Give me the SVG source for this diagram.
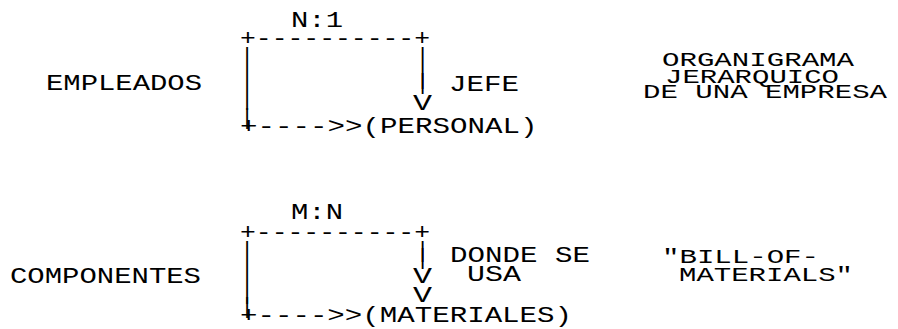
<svg xmlns="http://www.w3.org/2000/svg" width="898" height="329" viewBox="0 0 898 329">
<style>
text{font-family:"Liberation Mono","DejaVu Sans Mono",monospace;font-size:22px;fill:#000;}
.c{text-anchor:middle}
.cap{font-size:21px}
</style>
<rect width="898" height="329" fill="#fff"/>
<g id="connectors">
  <text x="240" y="45" textLength="190" lengthAdjust="spacingAndGlyphs">+----------+</text>
  <text x="247" y="63" class="c">|</text>
  <text x="247" y="84" class="c">|</text>
  <text x="247" y="105" class="c">|</text>
  <text x="247" y="124" class="c">|</text>
  <text x="422.5" y="63" class="c">|</text>
  <text x="422.5" y="84" class="c">|</text>
  <text x="422.5" y="89" class="c">|</text>
  <text x="422.5" y="110" class="c" textLength="19" lengthAdjust="spacingAndGlyphs">V</text>
  <text x="240" y="133" textLength="297.5" lengthAdjust="spacingAndGlyphs">+----&gt;&gt;(PERSONAL)</text>

  <text x="240" y="239" textLength="190" lengthAdjust="spacingAndGlyphs">+----------+</text>
  <text x="247" y="257" class="c">|</text>
  <text x="247" y="278" class="c">|</text>
  <text x="247" y="299" class="c">|</text>
  <text x="247" y="313" class="c">|</text>
  <text x="422.5" y="257" class="c">|</text>
  <text x="422.5" y="264" class="c">|</text>
  <text x="422.5" y="283" class="c" textLength="19" lengthAdjust="spacingAndGlyphs">V</text>
  <text x="422.5" y="302" class="c" textLength="19" lengthAdjust="spacingAndGlyphs">V</text>
  <text x="240" y="322" textLength="332" lengthAdjust="spacingAndGlyphs">+----&gt;&gt;(MATERIALES)</text>
</g>
<g id="rel1-card"><text x="291" y="27" textLength="52" lengthAdjust="spacingAndGlyphs">N:1</text></g>
<g id="empleados"><text x="46" y="90" textLength="156" lengthAdjust="spacingAndGlyphs">EMPLEADOS</text></g>
<g id="jefe"><text x="449" y="91" textLength="70" lengthAdjust="spacingAndGlyphs">JEFE</text></g>
<g id="caption1" class="cap">
  <text class="cap" x="662" y="66" textLength="192" lengthAdjust="spacingAndGlyphs">ORGANIGRAMA</text>
  <text class="cap" x="665" y="83" textLength="174" lengthAdjust="spacingAndGlyphs">JERARQUICO</text>
  <text class="cap" x="643" y="98" textLength="244" lengthAdjust="spacingAndGlyphs">DE UNA EMPRESA</text>
</g>
<g id="rel2-card"><text x="291" y="219" textLength="52" lengthAdjust="spacingAndGlyphs">M:N</text></g>
<g id="componentes"><text x="10" y="283" textLength="191" lengthAdjust="spacingAndGlyphs">COMPONENTES</text></g>
<g id="donde-se-usa">
  <text x="450" y="262" textLength="140" lengthAdjust="spacingAndGlyphs">DONDE SE</text>
  <text x="467" y="281" textLength="54" lengthAdjust="spacingAndGlyphs">USA</text>
</g>
<g id="caption2">
  <text class="cap" x="662" y="263" textLength="157" lengthAdjust="spacingAndGlyphs">"BILL-OF-</text>
  <text class="cap" x="679" y="281" textLength="174" lengthAdjust="spacingAndGlyphs">MATERIALS"</text>
</g>
</svg>
